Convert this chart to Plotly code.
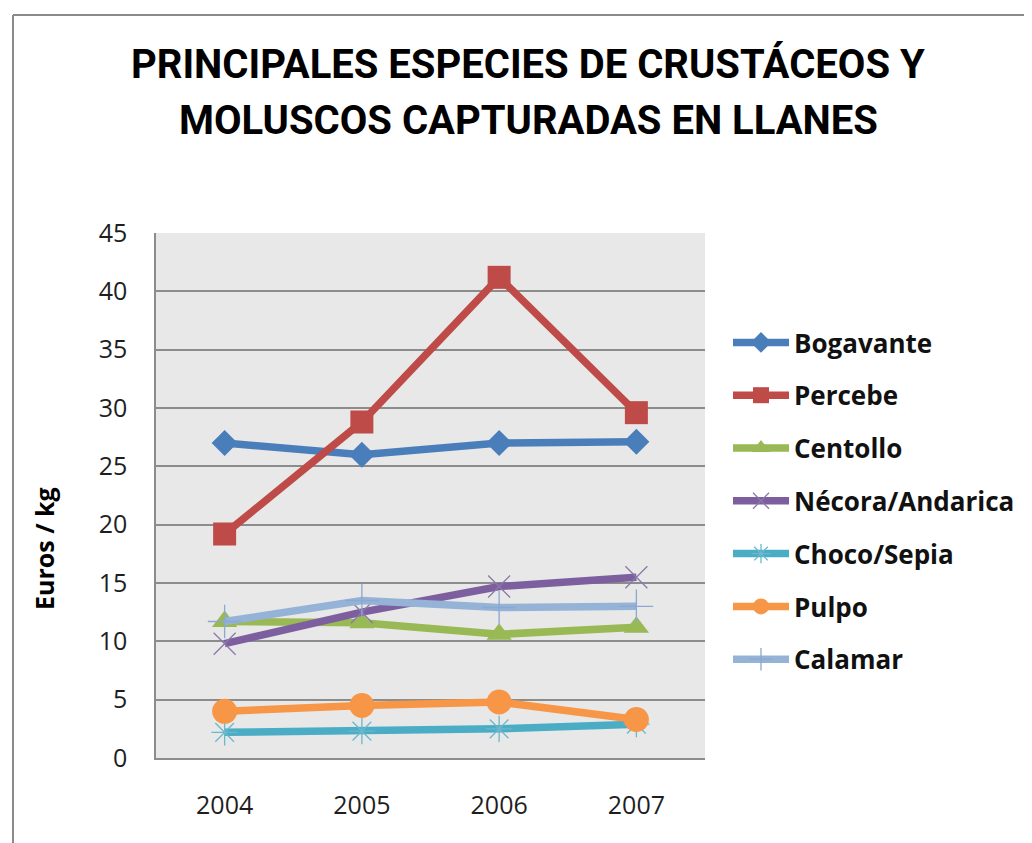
import plotly.graph_objects as go

years = ["2004", "2005", "2006", "2007"]
bogavante = [27.0, 26.0, 27.0, 27.1]
percebe = [19.2, 28.8, 41.2, 29.6]
centollo = [11.7, 11.6, 10.6, 11.2]
necora = [9.8, 12.5, 14.7, 15.5]
choco = [2.2, 2.3, 2.5, 2.9]
pulpo = [4.0, 4.5, 4.8, 3.3]
calamar = [11.7, 13.5, 12.9, 13.0]

series_names = ["Bogavante", "Percebe", "Centollo", "Nécora/Andarica",
                "Choco/Sepia", "Pulpo", "Calamar"]
series_values = [bogavante, percebe, centollo, necora, choco, pulpo, calamar]
y_ticks = [0, 5, 10, 15, 20, 25, 30, 35, 40, 45]

title_line1 = "PRINCIPALES ESPECIES DE CRUSTÁCEOS Y"
title_line2 = "MOLUSCOS CAPTURADAS EN LLANES"
y_title = "Euros / kg"

styles = [
    dict(color="#4A7EBB", symbol="diamond", size=20, mline=None),
    dict(color="#BE4B48", symbol="square", size=23, mline=None),
    dict(color="#98B954", symbol="triangle-up", size=22, mline=None),
    dict(color="#7D5FA0", symbol="x-thin", size=22, mline="#8A78A8"),
    dict(color="#4BACC6", symbol="asterisk", size=22, mline="#6AB8CC"),
    dict(color="#F79646", symbol="circle", size=25, mline=None),
    dict(color="#95B3D7", symbol="cross-thin", size=24, mline="#8AA8D0"),
]

fig = go.Figure()
for name, vals, st in zip(series_names, series_values, styles):
    marker = dict(symbol=st["symbol"], size=st["size"], color=st["color"])
    if st["mline"]:
        marker["line"] = dict(color=st["mline"], width=1.3)
    else:
        marker["line"] = dict(width=0)
    fig.add_trace(go.Scatter(
        x=years, y=vals, name=name, mode="lines+markers",
        line=dict(color=st["color"], width=7.5),
        marker=marker, legendgroup=name,
    ))

# page body adds an 8px offset; work in figure coordinates = target - OFF
OFF = 8
W, H = 1032 - OFF, 843 - OFF
L, R, T, B = 156 - OFF, 705 - OFF, 233 - OFF, 758 - OFF


def px(xp):
    return (xp - OFF - L) / (R - L)


def py(yp):
    return 1 - (yp - OFF - T) / (B - T)


fig.update_layout(
    width=W, height=H,
    margin=dict(l=L, r=W - R, t=T, b=H - B),
    paper_bgcolor="white",
    plot_bgcolor="#E8E8E8",
    font=dict(family="Open Sans", color="#1E1E1E"),
    showlegend=True,
    legend=dict(
        x=px(728), xanchor="left",
        y=py(319), yanchor="top",
        font=dict(family="Open Sans", size=26, color="#111111", weight="bold"),
        itemwidth=56, tracegroupgap=16,
        bgcolor="rgba(0,0,0,0)",
    ),
    xaxis=dict(
        type="category", range=[-0.5, 3.5],
        showgrid=False, showline=True, linecolor="#8C8C8C", linewidth=1.5,
        ticks="", tickfont=dict(size=25, color="#1E1E1E"),
        ticklabelstandoff=24,
    ),
    yaxis=dict(
        range=[0, 45], tickvals=y_ticks, showgrid=True,
        gridcolor="#8C8C8C", gridwidth=1.5,
        showline=True, linecolor="#8C8C8C", linewidth=1.5,
        ticks="", tickfont=dict(size=25, color="#1E1E1E"),
        ticklabelstandoff=22, zeroline=False,
    ),
    shapes=[
        dict(type="line", xref="paper", yref="paper",
             x0=px(13), x1=px(13), y0=py(15), y1=-1,
             line=dict(color="#8A8A8A", width=2)),
        dict(type="line", xref="paper", yref="paper",
             x0=px(13), x1=3, y0=py(15), y1=py(15),
             line=dict(color="#8A8A8A", width=2)),
    ],
    annotations=[
        dict(text=title_line1, xref="paper", yref="paper",
             x=px(528), y=py(64),
             xanchor="center", yanchor="middle", showarrow=False,
             font=dict(family="Roboto", size=40, color="black", weight="bold")),
        dict(text=title_line2, xref="paper", yref="paper",
             x=px(528), y=py(120),
             xanchor="center", yanchor="middle", showarrow=False,
             font=dict(family="Roboto", size=40, color="black", weight="bold")),
        dict(text=y_title, xref="paper", yref="paper",
             x=px(44), y=py(548),
             xanchor="center", yanchor="middle", showarrow=False, textangle=-90,
             font=dict(family="Open Sans", size=25, color="black", weight="bold")),
    ],
)

fig.write_html("out.html")
